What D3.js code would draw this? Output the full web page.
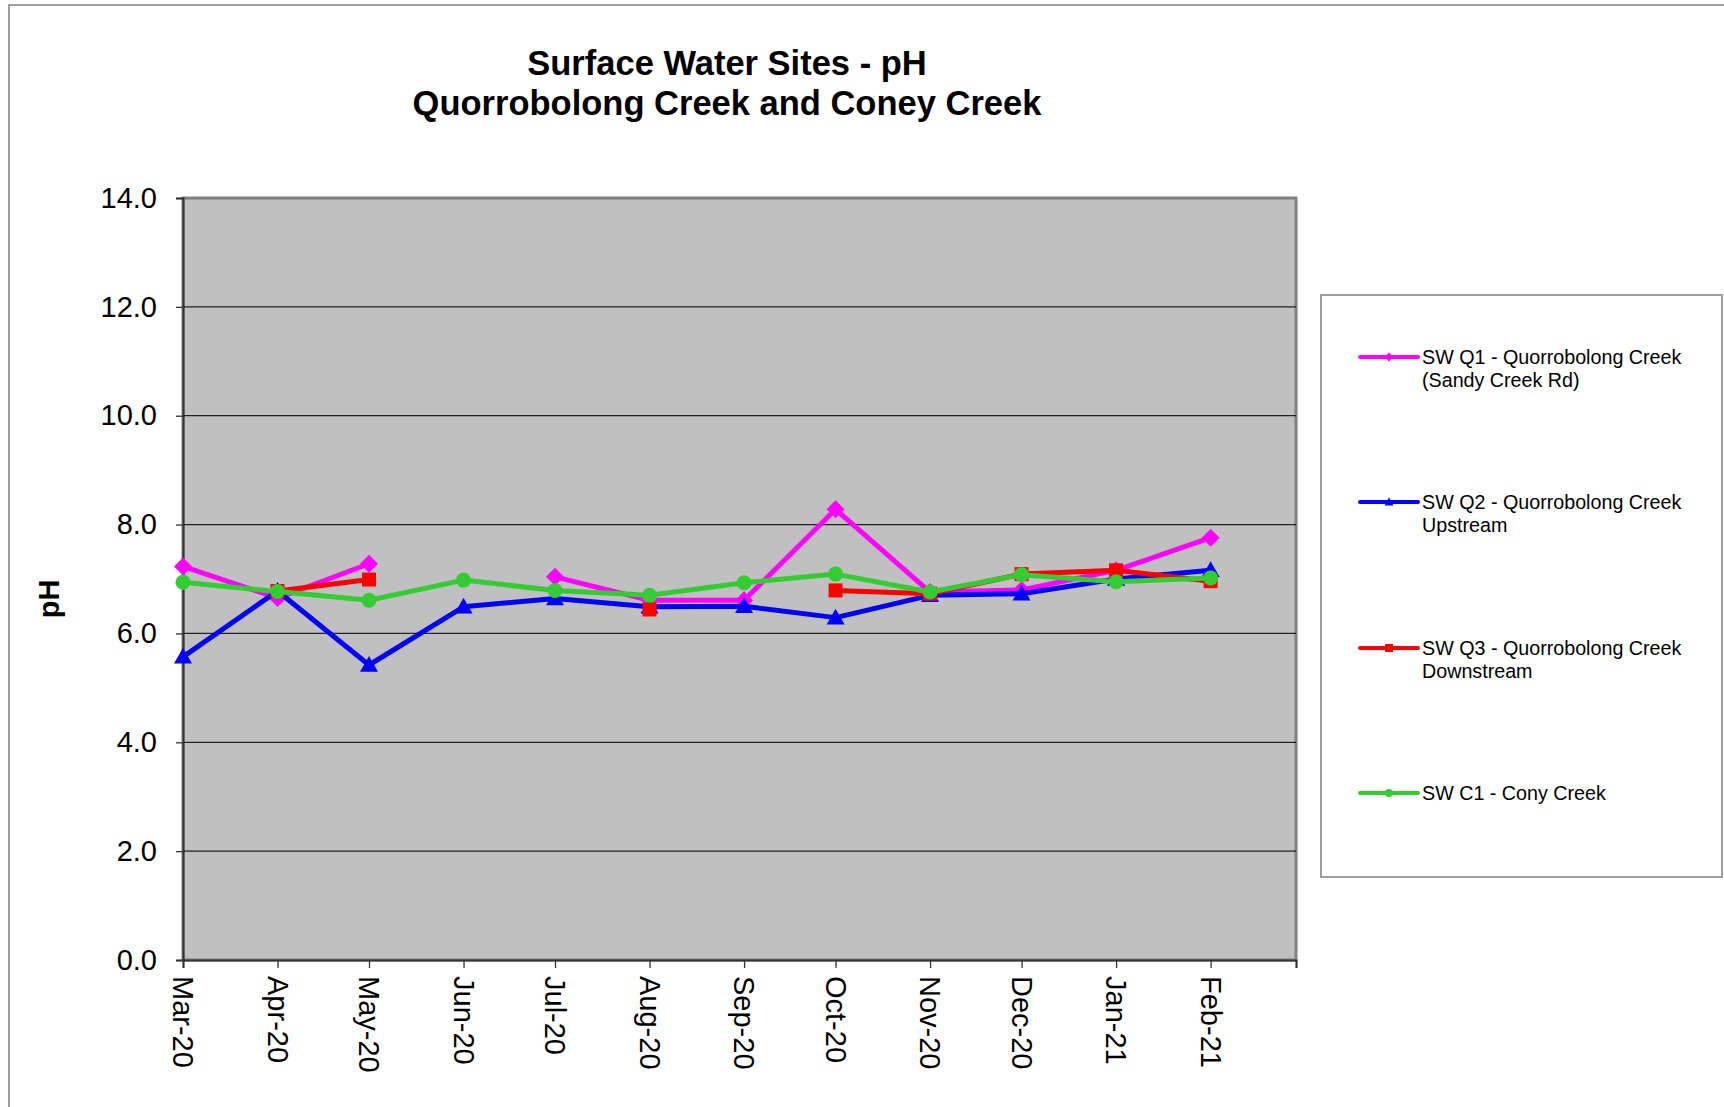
<!DOCTYPE html>
<html>
<head>
<meta charset="utf-8">
<script src="https://cdn.jsdelivr.net/npm/d3@7"></script>
<style>
  body { margin: 0; background: #fff; }
  svg { display: block; font-family: "Liberation Sans", Arial, sans-serif; }
</style>
</head>
<body>
<svg id="chart" width="1724" height="1107"></svg>
<script>
// sample months (first of month)
const months = ["2020-03-01", "2020-04-01", "2020-05-01", "2020-06-01", "2020-07-01", "2020-08-01",
  "2020-09-01", "2020-10-01", "2020-11-01", "2020-12-01", "2021-01-01", "2021-02-01"];

// pH readings, null = no sample
const q1 = [7.23, 6.65, 7.28, null, 7.04, 6.61, 6.61, 8.28, 6.76, 6.80, 7.16, 7.76];
const q2 = [5.57, 6.78, 5.42, 6.49, 6.64, 6.49, 6.50, 6.29, 6.70, 6.73, 7.00, 7.16];
const q3 = [null, 6.78, 6.99, null, null, 6.44, null, 6.79, 6.73, 7.09, 7.16, 6.96];
const c1 = [6.94, 6.77, 6.61, 6.98, 6.79, 6.70, 6.93, 7.09, 6.76, 7.08, 6.95, 7.02];

const yTicks = [0, 2, 4, 6, 8, 10, 12, 14];

const series = [
  { name: ["SW Q1 - Quorrobolong Creek", "(Sandy Creek Rd)"], values: q1, color: "#ff00ff", shape: "diamond" },
  { name: ["SW Q2 - Quorrobolong Creek", "Upstream"], values: q2, color: "#0000ff", shape: "triangle" },
  { name: ["SW Q3 - Quorrobolong Creek", "Downstream"], values: q3, color: "#ff0000", shape: "square" },
  { name: ["SW C1 - Cony Creek"], values: c1, color: "#33cc33", shape: "circle" }
];

const svg = d3.select("#chart");
const plot = { left: 183, right: 1296, top: 198, bottom: 960 };

const parse = d3.timeParse("%Y-%m-%d");
const dates = months.map(parse);

const x = d3.scaleTime()
  .domain([dates[0], d3.timeMonth.offset(dates[dates.length - 1], 1)])
  .range([plot.left, plot.right]);
const y = d3.scaleLinear().domain([0, 14]).range([plot.bottom, plot.top]);

const markerPath = (shape, s) => {
  if (shape === "diamond") return `M0,${-s}L${s},0L0,${s}L${-s},0Z`;
  if (shape === "triangle") return `M0,${-s}L${s},${s * 0.75}L${-s},${s * 0.75}Z`;
  if (shape === "square") return `M${-s},${-s}H${s}V${s}H${-s}Z`;
  return d3.path().toString();
};

// outer chart frame
svg.append("path")
  .attr("d", "M9,1107V5H1724")
  .attr("fill", "none")
  .attr("stroke", "#808080")
  .attr("stroke-width", 1.5);

// title
svg.append("text")
  .attr("x", 727).attr("y", 75)
  .attr("text-anchor", "middle")
  .style("font-size", "34.5px").style("font-weight", "bold")
  .text("Surface Water Sites - pH");
svg.append("text")
  .attr("x", 727).attr("y", 115)
  .attr("text-anchor", "middle")
  .style("font-size", "34.5px").style("font-weight", "bold")
  .text("Quorrobolong Creek and Coney Creek");

// plot area
svg.append("rect")
  .attr("x", plot.left).attr("y", plot.top)
  .attr("width", plot.right - plot.left).attr("height", plot.bottom - plot.top)
  .attr("fill", "#c0c0c0")
  .attr("stroke", "#808080")
  .attr("stroke-width", 3);

svg.append("g")
  .selectAll("line")
  .data(yTicks.filter(d => d > 0 && d < 14))
  .enter()
  .append("line")
  .attr("x1", plot.left).attr("x2", plot.right)
  .attr("y1", d => y(d)).attr("y2", d => y(d))
  .attr("stroke", "#222")
  .attr("stroke-width", 1.3);

// y axis
const yAxis = svg.append("g")
  .attr("transform", `translate(${plot.left},0)`)
  .call(d3.axisLeft(y).tickValues(yTicks).tickFormat(d3.format(".1f")).tickSize(7).tickPadding(19));
yAxis.select(".domain").attr("stroke", "#333").attr("stroke-width", 2);
yAxis.selectAll(".tick line").attr("stroke", "#333").attr("stroke-width", 1.3);
yAxis.selectAll(".tick text")
  .style("font-size", "29px")
  .style("font-family", "\"Liberation Sans\", Arial, sans-serif")
  .attr("fill", "#000");

svg.append("text")
  .attr("transform", "translate(59,599) rotate(-90)")
  .attr("text-anchor", "middle")
  .style("font-size", "29px").style("font-weight", "bold")
  .text("pH");

// x axis
const fmt = d3.timeFormat("%b-%y");
const lastTick = x.domain()[1];
const xAxis = svg.append("g")
  .attr("transform", `translate(0,${plot.bottom})`)
  .call(d3.axisBottom(x)
    .ticks(d3.timeMonth.every(1))
    .tickFormat(d => (+d === +lastTick ? "" : fmt(d)))
    .tickSize(8));
xAxis.select(".domain").attr("stroke", "#333").attr("stroke-width", 2);
xAxis.selectAll(".tick line").attr("stroke", "#333").attr("stroke-width", 1.3);
xAxis.selectAll(".tick text")
  .attr("transform", "rotate(90)")
  .attr("x", 16).attr("y", 0).attr("dy", "0.35em")
  .attr("text-anchor", "start")
  .attr("fill", "#000")
  .style("font-size", "29px")
  .style("font-family", "\"Liberation Sans\", Arial, sans-serif");

// series
const line = d3.line()
  .defined(d => d.v != null)
  .x(d => x(d.date))
  .y(d => y(d.v));

series.forEach(s => {
  const pts = s.values.map((v, i) => ({ date: dates[i], v }));
  const g = svg.append("g");
  g.append("path")
    .datum(pts)
    .attr("d", line)
    .attr("fill", "none")
    .attr("stroke", s.color)
    .attr("stroke-width", 5)
    .attr("stroke-linejoin", "round");

  const marks = g.selectAll(".mark")
    .data(pts.filter(d => d.v != null))
    .enter();
  if (s.shape === "circle") {
    marks.append("circle")
      .attr("cx", d => x(d.date)).attr("cy", d => y(d.v))
      .attr("r", 7.5)
      .attr("fill", s.color);
  } else {
    const size = s.shape === "square" ? 7 : 9;
    marks.append("path")
      .attr("transform", d => `translate(${x(d.date)},${y(d.v)})`)
      .attr("d", markerPath(s.shape, size))
      .attr("fill", s.color);
  }
});

// legend
svg.append("rect")
  .attr("x", 1321).attr("y", 295)
  .attr("width", 401).attr("height", 582)
  .attr("fill", "#fff")
  .attr("stroke", "#808080")
  .attr("stroke-width", 1.5);

const legendY = [357, 502, 648, 793];
series.forEach((s, i) => {
  const g = svg.append("g").attr("transform", `translate(0,${legendY[i]})`);
  g.append("line")
    .attr("x1", 1360).attr("x2", 1418)
    .attr("stroke", s.color).attr("stroke-width", 4)
    .attr("stroke-linecap", "round");
  if (s.shape === "circle") {
    g.append("circle").attr("cx", 1389).attr("r", 4).attr("fill", s.color);
  } else {
    g.append("path")
      .attr("transform", "translate(1389,0)")
      .attr("d", markerPath(s.shape, s.shape === "square" ? 4 : 4.5))
      .attr("fill", s.color);
  }
  s.name.forEach((t, j) => {
    g.append("text")
      .attr("x", 1422).attr("y", j * 23)
      .attr("dy", "0.35em")
      .style("font-size", "19.7px")
      .text(t);
  });
});
</script>
</body>
</html>
